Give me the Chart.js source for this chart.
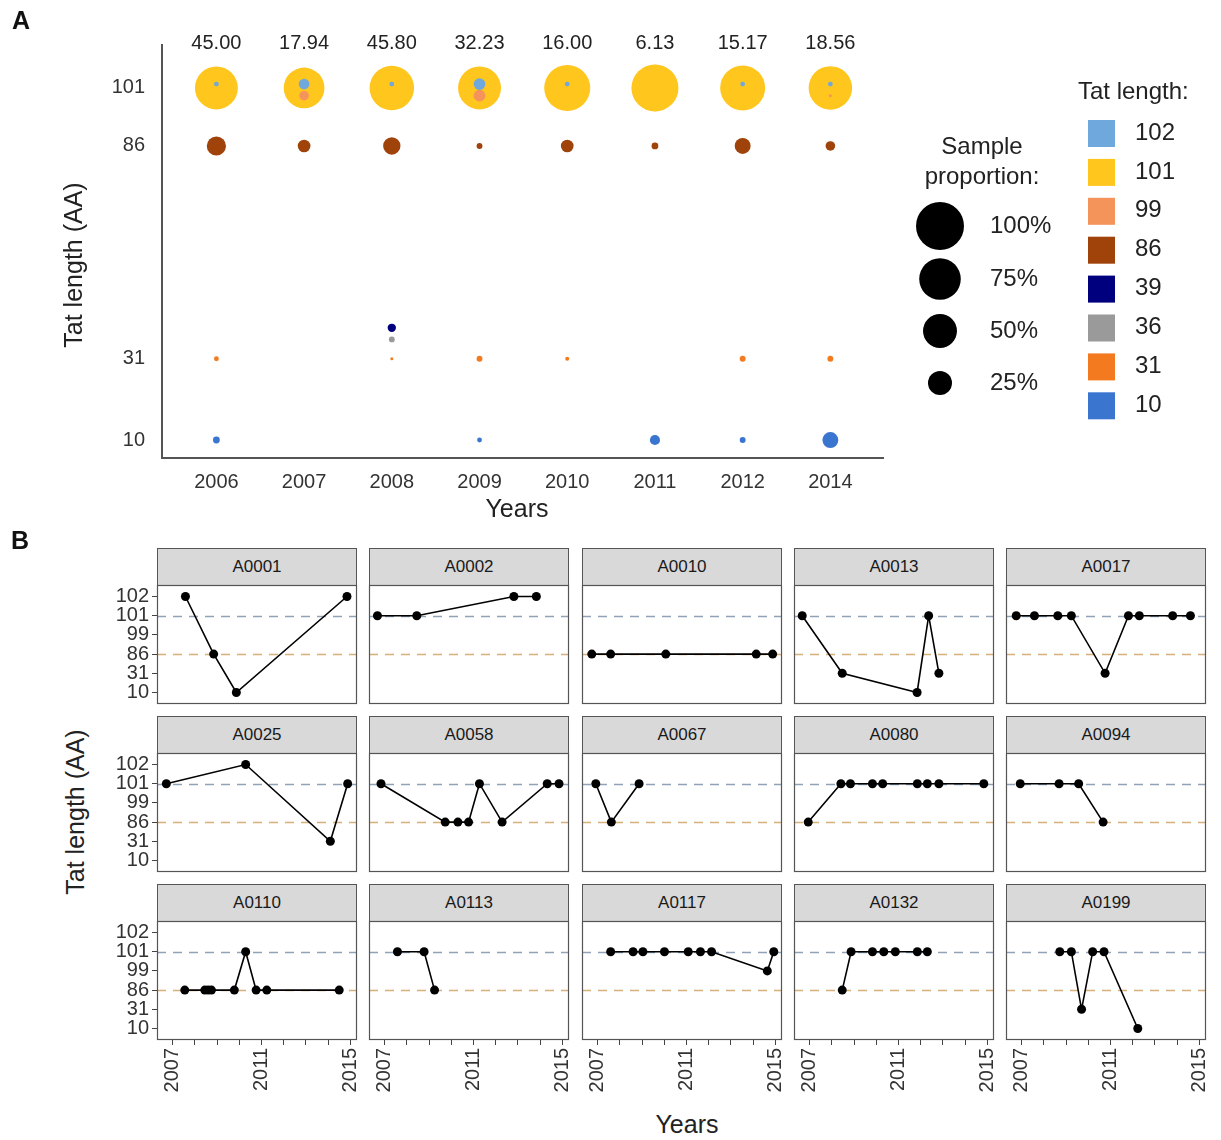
<!DOCTYPE html>
<html>
<head>
<meta charset="utf-8">
<script src="https://cdn.jsdelivr.net/npm/chart.js@4.4.1/dist/chart.umd.min.js"></script>
<style>
  html, body { margin: 0; padding: 0; background: #fff; }
  body { position: relative; width: 1221px; height: 1140px; overflow: hidden;
         font-family: "Liberation Sans", Arial, Helvetica, sans-serif; color: #222; }
  canvas { position: absolute; }
  .strip { position: absolute; box-sizing: border-box; background: #d9d9d9; border: 1px solid #555;
           text-align: center; font-size: 17px; color: #1a1a1a; }
  .txt { position: absolute; white-space: nowrap; }
  .panel-tag { font-weight: bold; font-size: 25px; color: #111; }
  .title { font-size: 25px; color: #222; }
</style>
</head>
<body>
<canvas id="panelA" width="1221" height="530" style="left:0;top:0"></canvas>

<div class="txt panel-tag" style="left:12px;top:6px">A</div>
<div class="txt panel-tag" style="left:11px;top:526px">B</div>
<div class="txt title" style="left:75px;top:812px;transform:translate(-50%,-50%) rotate(-90deg)">Tat length (AA)</div>
<div class="txt title" style="left:687px;top:1124px;transform:translate(-50%,-50%)">Years</div>

<script>
// ---------- Panel A: proportion of each Tat length per sampling year ----------
const years = ['2006', '2007', '2008', '2009', '2010', '2011', '2012', '2014'];
const yearValues = [45.00, 17.94, 45.80, 32.23, 16.00, 6.13, 15.17, 18.56];

const tatLengths = [102, 101, 99, 86, 39, 36, 31, 10];
const tatColors = ['#6FA8DC', '#FFC61E', '#F4935A', '#A0430A', '#00007F', '#9A9A9A', '#F47A20', '#3A75CF'];

// sample proportion of each Tat length in each year (same order as years)
const prop102 = [0.010, 0.050, 0.010, 0.060, 0.010, 0.000, 0.010, 0.010];
const prop101 = [0.800, 0.720, 0.860, 0.800, 0.920, 0.960, 0.880, 0.820];
const prop99  = [0.000, 0.040, 0.000, 0.060, 0.000, 0.000, 0.000, 0.004];
const prop86  = [0.160, 0.070, 0.130, 0.015, 0.070, 0.020, 0.110, 0.040];
const prop39  = [0.000, 0.000, 0.030, 0.000, 0.000, 0.000, 0.000, 0.000];
const prop36  = [0.000, 0.000, 0.015, 0.000, 0.000, 0.000, 0.000, 0.000];
const prop31  = [0.010, 0.000, 0.004, 0.015, 0.007, 0.000, 0.015, 0.015];
const prop10  = [0.020, 0.000, 0.000, 0.010, 0.000, 0.045, 0.015, 0.110];
const propByTat = [prop102, prop101, prop99, prop86, prop39, prop36, prop31, prop10];

const sizeLegend = [1.00, 0.75, 0.50, 0.25];

// ---------- Panel B: Tat length over time for individual samples ----------
const tatLevels = [10, 31, 86, 99, 101, 102];
const axisYears = [2007, 2008, 2009, 2010, 2011, 2012, 2013, 2014, 2015];
const labeledYears = [2007, 2011, 2015];
const facetIds = ['A0001', 'A0002', 'A0010', 'A0013', 'A0017',
                  'A0025', 'A0058', 'A0067', 'A0080', 'A0094',
                  'A0110', 'A0113', 'A0117', 'A0132', 'A0199'];
const facetYears = [
  [2007.58, 2008.85, 2009.87, 2014.85],
  [2006.68, 2008.45, 2012.82, 2013.83],
  [2006.74, 2007.59, 2010.07, 2014.14, 2014.88],
  [2006.67, 2008.47, 2011.84, 2012.36, 2012.82],
  [2006.76, 2007.58, 2008.63, 2009.24, 2010.76, 2011.81, 2012.30, 2013.80, 2014.60],
  [2006.72, 2010.29, 2014.10, 2014.88],
  [2006.84, 2009.73, 2010.30, 2010.78, 2011.27, 2012.29, 2014.32, 2014.85],
  [2006.92, 2007.62, 2008.87],
  [2006.94, 2008.41, 2008.84, 2009.83, 2010.29, 2011.85, 2012.30, 2012.82, 2014.84],
  [2006.94, 2008.69, 2009.57, 2010.67],
  [2007.55, 2008.45, 2008.60, 2008.75, 2009.78, 2010.29, 2010.76, 2011.24, 2014.50],
  [2007.58, 2008.78, 2009.25],
  [2007.59, 2008.60, 2009.04, 2010.01, 2011.08, 2011.63, 2012.13, 2014.64, 2014.93],
  [2008.47, 2008.87, 2009.83, 2010.34, 2010.86, 2011.85, 2012.30],
  [2008.72, 2009.24, 2009.70, 2010.20, 2010.71, 2012.23]
];
const facetTat = [
  [102, 86, 10, 102],
  [101, 101, 102, 102],
  [86, 86, 86, 86, 86],
  [101, 31, 10, 101, 31],
  [101, 101, 101, 101, 31, 101, 101, 101, 101],
  [101, 102, 31, 101],
  [101, 86, 86, 86, 101, 86, 101, 101],
  [101, 86, 101],
  [86, 101, 101, 101, 101, 101, 101, 101, 101],
  [101, 101, 101, 86],
  [86, 86, 86, 86, 86, 101, 86, 86, 86],
  [101, 101, 86],
  [101, 101, 101, 101, 101, 101, 101, 99, 101],
  [86, 101, 101, 101, 101, 101, 101],
  [101, 101, 31, 101, 101, 10]
];
const refLines = [101, 86];
const refColors = ['#8FA2B8', '#D6B07A'];

const FONT = '"Liberation Sans", Arial, Helvetica, sans-serif';
const MAX_RADIUS = 24;
const radiusFor = p => MAX_RADIUS * Math.sqrt(p);

// ---- Panel A ----
const bubbleSets = tatLengths.map((len, k) => ({
  label: String(len),
  data: years.map((_, i) => ({ x: i, y: len, r: radiusFor(propByTat[k][i]) }))
             .filter(d => d.r > 0),
  backgroundColor: tatColors[k],
  borderWidth: 0,
  hoverBorderWidth: 0,
  order: len === 101 ? 1 : 0
}));

const panelADecor = {
  id: 'panelADecor',
  afterDraw(chart) {
    const { ctx, scales: { x, y } } = chart;
    ctx.save();
    // year totals above the columns
    ctx.font = `20px ${FONT}`;
    ctx.fillStyle = '#222';
    ctx.textAlign = 'center';
    ctx.textBaseline = 'middle';
    yearValues.forEach((v, i) => {
      ctx.fillText(v.toFixed(2), x.getPixelForValue(i), y.getPixelForValue(y.max) - 2);
    });

    // axis titles
    ctx.font = `25px ${FONT}`;
    ctx.fillText('Years', 517, 510);
    ctx.save();
    ctx.translate(75, 265);
    ctx.rotate(-Math.PI / 2);
    ctx.fillText('Tat length (AA)', 0, 0);
    ctx.restore();

    // size legend
    ctx.font = `24px ${FONT}`;
    ctx.fillText('Sample', 982, 147);
    ctx.fillText('proportion:', 982, 177);
    const sizeY = [226, 279, 331, 383];
    sizeLegend.forEach((p, i) => {
      ctx.beginPath();
      ctx.fillStyle = '#000';
      ctx.arc(940, sizeY[i], radiusFor(p), 0, Math.PI * 2);
      ctx.fill();
      ctx.fillStyle = '#222';
      ctx.textAlign = 'left';
      ctx.fillText(Math.round(p * 100) + '%', 990, sizeY[i]);
      ctx.textAlign = 'center';
    });

    // colour legend
    ctx.textAlign = 'left';
    ctx.fillStyle = '#222';
    ctx.fillText('Tat length:', 1078, 92);
    tatLengths.forEach((len, k) => {
      const cy = 133 + 38.9 * k;
      ctx.fillStyle = tatColors[k];
      ctx.fillRect(1088, cy - 13, 27, 27);
      ctx.fillStyle = '#222';
      ctx.fillText(String(len), 1135, cy);
    });
    ctx.restore();
  }
};

new Chart(document.getElementById('panelA'), {
  type: 'bubble',
  data: { datasets: bubbleSets },
  options: {
    responsive: false,
    animation: false,
    devicePixelRatio: 1,
    layout: { padding: { left: 0, top: 45, right: 338, bottom: 0 } },
    plugins: { legend: { display: false }, tooltip: { enabled: false } },
    scales: {
      x: {
        type: 'linear', min: -0.62, max: 7.6,
        afterBuildTicks: s => { s.ticks = years.map((_, i) => ({ value: i })); },
        afterFit: s => { s.height = 72; },
        ticks: { autoSkip: false, maxRotation: 0, minRotation: 0, padding: 12,
                 color: '#333', font: { size: 20, family: FONT },
                 callback: v => years[v] },
        grid: { display: true, drawOnChartArea: false, drawTicks: false },
        border: { display: true, color: '#555', width: 2 }
      },
      y: {
        type: 'linear', min: 5.35, max: 112.1,
        afterBuildTicks: s => { s.ticks = [101, 86, 31, 10].map(v => ({ value: v })); },
        afterFit: s => { s.width = 162; },
        ticks: { autoSkip: false, padding: 17, color: '#333', font: { size: 20, family: FONT } },
        grid: { display: true, drawOnChartArea: false, drawTicks: false },
        border: { display: true, color: '#555', width: 2 }
      }
    }
  },
  plugins: [panelADecor]
});

// ---- Panel B ----
const facetFrame = {
  id: 'facetFrame',
  beforeDatasetsDraw(chart) {
    const { ctx, chartArea: a, scales: { y } } = chart;
    ctx.save();
    ctx.lineWidth = 1.6;
    ctx.setLineDash([9, 7]);
    refLines.forEach((len, i) => {
      const py = Math.round(y.getPixelForValue(tatLevels.indexOf(len))) + 0.5;
      ctx.strokeStyle = refColors[i];
      ctx.beginPath();
      ctx.moveTo(a.left, py);
      ctx.lineTo(a.right, py);
      ctx.stroke();
    });
    ctx.restore();
  },
  afterDraw(chart) {
    const { ctx, chartArea: a } = chart;
    ctx.save();
    ctx.strokeStyle = '#555';
    ctx.lineWidth = 1.2;
    ctx.strokeRect(a.left + 0.5, a.top + 0.5, a.right - a.left - 1, a.bottom - a.top - 1);
    ctx.restore();
  }
};

function facetChart(k) {
  const col = k % 5, row = Math.floor(k / 5);
  const plotLeft = Math.round(157 + 212.3 * col);
  const plotTop = 585 + 168 * row;
  const plotW = 200, plotH = 119;
  const showY = col === 0, showX = row === 2;
  const axisW = showY ? 60 : 0, axisH = showX ? 62 : 0;
  const M = 30;

  const strip = document.createElement('div');
  strip.className = 'strip';
  Object.assign(strip.style, {
    left: plotLeft + 'px', top: (plotTop - 37) + 'px',
    width: plotW + 'px', height: '38px', lineHeight: '36px'
  });
  strip.textContent = facetIds[k];
  document.body.appendChild(strip);

  const cv = document.createElement('canvas');
  cv.width = plotW + axisW + 2 * M;
  cv.height = plotH + axisH + 2 * M;
  cv.style.left = (plotLeft - axisW - M) + 'px';
  cv.style.top = (plotTop - M) + 'px';
  document.body.appendChild(cv);

  new Chart(cv, {
    type: 'scatter',
    data: {
      datasets: [{
        data: facetYears[k].map((yr, i) => ({ x: yr, y: tatLevels.indexOf(facetTat[k][i]) })),
        showLine: true,
        borderColor: '#000',
        backgroundColor: '#000',
        borderWidth: 1.6,
        pointRadius: 4.5,
        pointBorderWidth: 0,
        tension: 0
      }]
    },
    options: {
      responsive: false,
      animation: false,
      devicePixelRatio: 1,
      layout: { padding: M },
      plugins: { legend: { display: false }, tooltip: { enabled: false } },
      scales: {
        x: {
          type: 'linear', min: 2006.3, max: 2015.3, display: showX,
          afterBuildTicks: s => { s.ticks = axisYears.map(v => ({ value: v })); },
          afterFit: s => { s.height = axisH; },
          ticks: { autoSkip: false, minRotation: 90, maxRotation: 90, padding: 3,
                   color: '#333', font: { size: 20, family: FONT },
                   callback: v => labeledYears.includes(v) ? String(v) : '' },
          grid: { display: true, drawOnChartArea: false, drawTicks: true, tickLength: 5, color: '#444' },
          border: { display: false }
        },
        y: {
          type: 'linear', min: -0.6, max: 5.6, display: showY,
          afterBuildTicks: s => { s.ticks = tatLevels.map((_, i) => ({ value: i })); },
          afterFit: s => { s.width = axisW; },
          ticks: { autoSkip: false, padding: 3, color: '#333', font: { size: 20, family: FONT },
                   callback: v => String(tatLevels[v]) },
          grid: { display: true, drawOnChartArea: false, drawTicks: true, tickLength: 5, color: '#444' },
          border: { display: false }
        }
      }
    },
    plugins: [facetFrame]
  });
}

facetIds.forEach((_, k) => facetChart(k));
</script>
</body>
</html>
